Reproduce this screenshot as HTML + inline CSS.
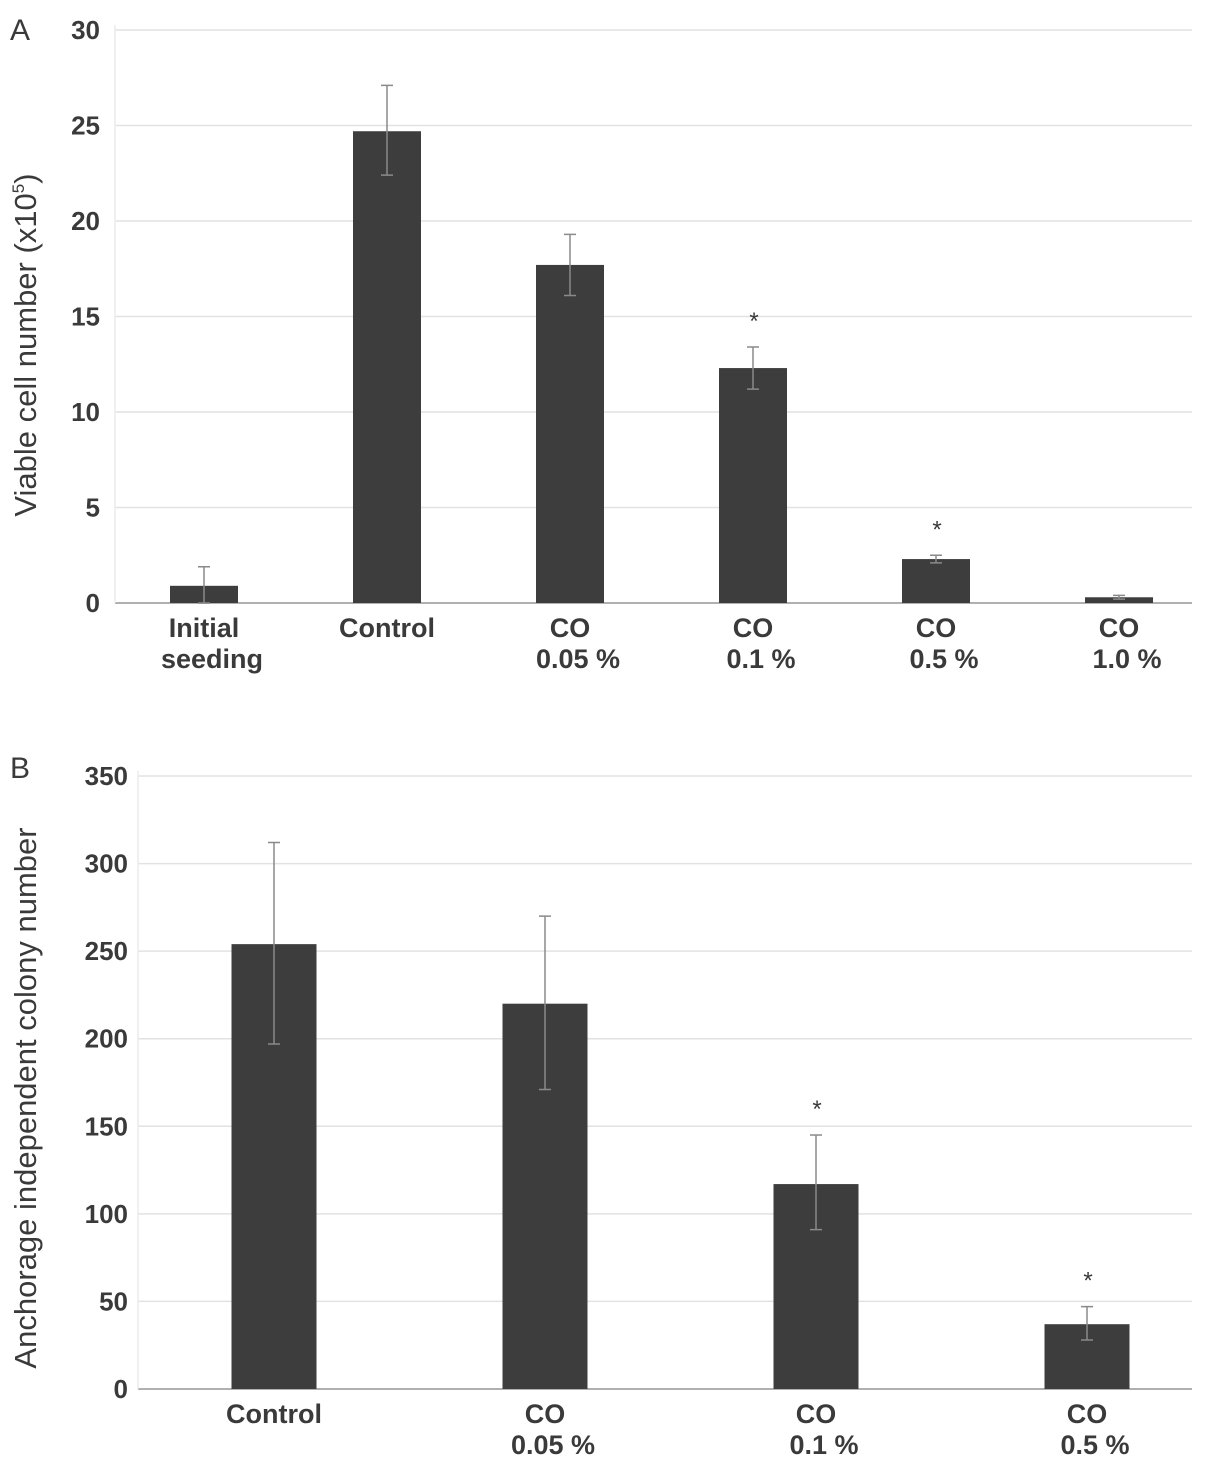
<!DOCTYPE html>
<html><head><meta charset="utf-8"><style>
body{margin:0;background:#fff}
svg text{font-family:"Liberation Sans",sans-serif;fill:#3a3a3a;font-weight:bold}
</style></head><body>
<svg id="fig" width="1205" height="1468" viewBox="0 0 1205 1468" xmlns="http://www.w3.org/2000/svg">
<text x="10" y="40" font-size="30" style="font-weight:normal">A</text>
<text x="10" y="778" font-size="30" style="font-weight:normal">B</text>
<text transform="translate(36,345) rotate(-90)" font-size="31" style="font-weight:normal" text-anchor="middle">Viable cell number (x10<tspan font-size="17" dy="-12">5</tspan><tspan dy="12">)</tspan></text>
<text transform="translate(36,1098) rotate(-90)" font-size="31" style="font-weight:normal" text-anchor="middle">Anchorage independent colony number</text>
<g id="ga"></g><g id="gb"></g>
</svg>
<script>
const catsA=[["Initial","seeding"],["Control",""],["CO","0.05 %"],["CO","0.1 %"],["CO","0.5 %"],["CO","1.0 %"]];
const valsA=[0.9,24.7,17.7,12.3,2.3,0.3];
const loA=[0.0,22.4,16.1,11.2,2.1,0.2];
const hiA=[1.9,27.1,19.3,13.4,2.5,0.4];
const sigA=[false,false,false,true,true,false];
const ticksA=[0,5,10,15,20,25,30];
const catsB=[["Control",""],["CO","0.05 %"],["CO","0.1 %"],["CO","0.5 %"]];
const valsB=[254,220,117,37];
const loB=[197,171,91,28];
const hiB=[312,270,145,47];
const sigB=[false,false,true,true];
const ticksB=[0,50,100,150,200,250,300,350];
const NS="http://www.w3.org/2000/svg";
function mk(g,t,a){const e=document.createElementNS(NS,t);for(const k in a)e.setAttribute(k,a[k]);g.appendChild(e);return e;}
function chart(gid,cats,vals,lo,hi,sig,ticks,o){
 const g=document.getElementById(gid);
 const y=v=>o.y0-(v/o.max)*(o.y0-o.yTop);
 const xc=i=>o.c0+o.step*i;
 ticks.forEach(t=>{
  const l=mk(g,'line',{x1:o.left,x2:o.right,y1:y(t),y2:y(t),stroke:t===0?'#b0b0b0':'#e2e2e2','stroke-width':t===0?2:1.5});
  
  
  const tx=mk(g,'text',{x:o.tickX,y:y(t)+9,'font-size':26,'text-anchor':'end'});tx.textContent=t;
  
  
 });
 const vl=mk(g,'line',{x1:o.left,x2:o.left,y1:o.yTop-5,y2:o.y0,stroke:'#ececec','stroke-width':1.5});
 
 
 cats.forEach((c,i)=>{
  const x=xc(i);
  const r=mk(g,'rect',{x:x-o.bw/2,y:y(vals[i]),width:o.bw,height:y(0)-y(vals[i]),fill:'#3d3d3d'});
  
  
  const e=mk(g,'path',{d:`M${x},${y(lo[i])}V${y(hi[i])}M${x-6},${y(hi[i])}H${x+6}M${x-6},${y(lo[i])}H${x+6}`,stroke:'#8a8a8a','stroke-width':1.5,fill:'none'});
  
  
  if(sig[i]){const s=mk(g,'text',{x:x+1,y:y(hi[i])-18,'font-size':24,'text-anchor':'middle','style':'font-weight:normal'});s.textContent='*';
   
   }
  c.forEach((ln,j)=>{if(!ln)return;const t=mk(g,'text',{x:x+(j?8:0),y:o.y0+34+j*31,'font-size':27,'text-anchor':'middle'});t.textContent=ln;
   
   });
 });
}
chart('ga',catsA,valsA,loA,hiA,sigA,ticksA,{left:115,right:1192,y0:603,yTop:30,max:30,bw:68,tickX:100,c0:204,step:183});
chart('gb',catsB,valsB,loB,hiB,sigB,ticksB,{left:138,right:1192,y0:1389,yTop:776,max:350,bw:85,tickX:128,c0:274,step:271});
</script>
</body></html>
